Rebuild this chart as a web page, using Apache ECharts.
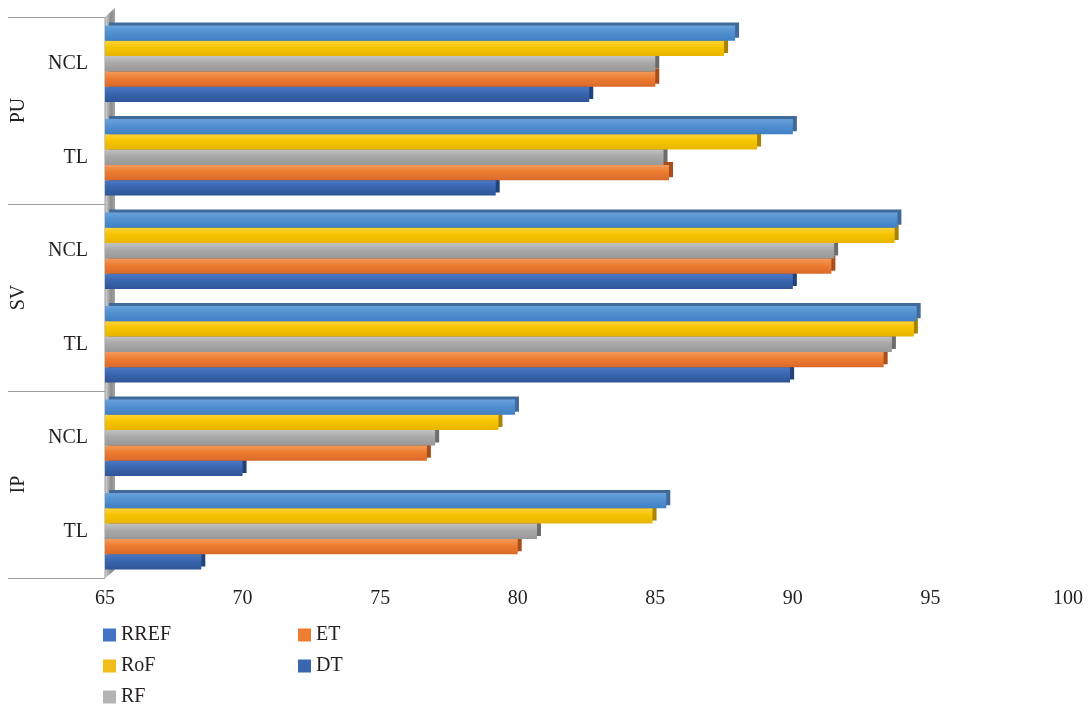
<!DOCTYPE html>
<html>
<head>
<meta charset="utf-8">
<script src="https://cdn.jsdelivr.net/npm/echarts@6/dist/echarts.min.js"></script>
<style>
  html, body { margin: 0; padding: 0; background: #fff; }
  #chart { width: 1090px; height: 708px; }
</style>
</head>
<body>
<div id="chart"></div>
<script>
// categories, bottom to top
var categories = ['TL', 'NCL', 'TL', 'NCL', 'TL', 'NCL'];
var groups = ['IP', 'SV', 'PU'];

// series values (same order as categories)
var rref = [85.4, 79.9, 94.5, 93.8, 90.0, 87.9];
var rof  = [84.9, 79.3, 94.4, 93.7, 88.7, 87.5];
var rf   = [80.7, 77.0, 93.6, 91.5, 85.3, 85.0];
var et   = [80.0, 76.7, 93.3, 91.4, 85.5, 85.0];
var dt   = [68.5, 70.0, 89.9, 90.0, 79.2, 82.6];

var xMin = 65, xMax = 100, xStep = 5;

var FONT = 'Liberation Serif';
var TXT = '#231f20';
var FS = 20;

// plot area
var L = 105, R = 22, T = 17, B = 130;

function grad(light, base, dark) {
  return new echarts.graphic.LinearGradient(0, 0, 0, 1, [
    {offset: 0, color: light},
    {offset: 0.45, color: base},
    {offset: 1, color: dark}
  ]);
}

// bars drawn top-down in the band; higher bars sit above so the
// offset "depth" of each bar only shows at its right end
function barSeries(name, data, light, base, dark, side, z) {
  return {
    name: name,
    type: 'bar',
    z: z,
    data: data,
    barGap: '0%',
    barCategoryGap: '18%',
    itemStyle: {
      color: grad(light, base, dark),
      shadowColor: side,
      shadowBlur: 0,
      shadowOffsetX: 4,
      shadowOffsetY: -3
    }
  };
}

var legendText = {fontFamily: FONT, fontSize: FS, color: TXT};

var chart = echarts.init(document.getElementById('chart'));

var option = {
  animation: false,
  backgroundColor: '#fff',
  textStyle: {fontFamily: FONT},
  grid: {left: L, right: R, top: T, bottom: B, containLabel: false},
  legend: [
    {
      orient: 'vertical',
      left: 103, top: 625, padding: 0,
      itemWidth: 13, itemHeight: 13, itemGap: 11,
      icon: 'rect',
      textStyle: legendText,
      data: [
        {name: 'RREF', itemStyle: {color: '#4472c4'}},
        {name: 'RoF', itemStyle: {color: '#f2bc1a'}},
        {name: 'RF', itemStyle: {color: '#b4b4b4'}}
      ]
    },
    {
      orient: 'vertical',
      left: 298, top: 625, padding: 0,
      itemWidth: 13, itemHeight: 13, itemGap: 11,
      icon: 'rect',
      textStyle: legendText,
      data: [
        {name: 'ET', itemStyle: {color: '#ed7d31'}},
        {name: 'DT', itemStyle: {color: '#3a66b0'}}
      ]
    }
  ],
  xAxis: {
    type: 'value',
    min: xMin, max: xMax, interval: xStep,
    axisLine: {show: false},
    axisTick: {show: false},
    splitLine: {show: false},
    axisLabel: {fontFamily: FONT, fontSize: FS, color: TXT, margin: 11}
  },
  yAxis: [
    {
      type: 'category',
      data: categories,
      axisLine: {show: false},
      axisTick: {show: false},
      axisLabel: {fontFamily: FONT, fontSize: FS, color: TXT, margin: 17}
    },
    {
      type: 'category',
      data: groups,
      position: 'left',
      axisLine: {show: false},
      axisTick: {show: true, length: 97, lineStyle: {color: '#a0a0a0', width: 1}},
      axisLabel: {fontFamily: FONT, fontSize: FS, color: TXT, rotate: 90, margin: 76}
    }
  ],
  series: [
    barSeries('RREF', rref, '#6aa3db', '#5290d0', '#3f7fc4', '#41699a', 7),
    barSeries('RoF',  rof,  '#ffd33a', '#f5c400', '#e8b400', '#a88200', 6),
    barSeries('RF',   rf,   '#c2c2c2', '#a8a8a8', '#989898', '#6c6c6c', 5),
    barSeries('ET',   et,   '#f39a5c', '#ed7d31', '#d9692a', '#a84e1a', 4),
    barSeries('DT',   dt,   '#4a78c4', '#3a66b0', '#2d5496', '#22427a', 3)
  ]
};

chart.setOption(option);

// grey back wall behind the bars, along the left edge of the grid
var bottomY = 708 - B, topY = T;
chart.setOption({
  graphic: [
    {
      type: 'polygon',
      z: 0,
      shape: {points: [[L, topY], [L + 10, topY - 9], [L + 10, bottomY - 8], [L, bottomY]]},
      style: {
        fill: new echarts.graphic.LinearGradient(0, 0, 1, 0, [
          {offset: 0, color: '#dcdcdc'},
          {offset: 0.25, color: '#b4b4b4'},
          {offset: 0.6, color: '#8c8c8c'},
          {offset: 1, color: '#a4a4a4'}
        ])
      }
    },
    {
      type: 'line',
      z: 0,
      shape: {x1: L, y1: topY, x2: L, y2: bottomY},
      style: {stroke: '#9a9a9a', lineWidth: 1}
    }
  ]
});
</script>
</body>
</html>
